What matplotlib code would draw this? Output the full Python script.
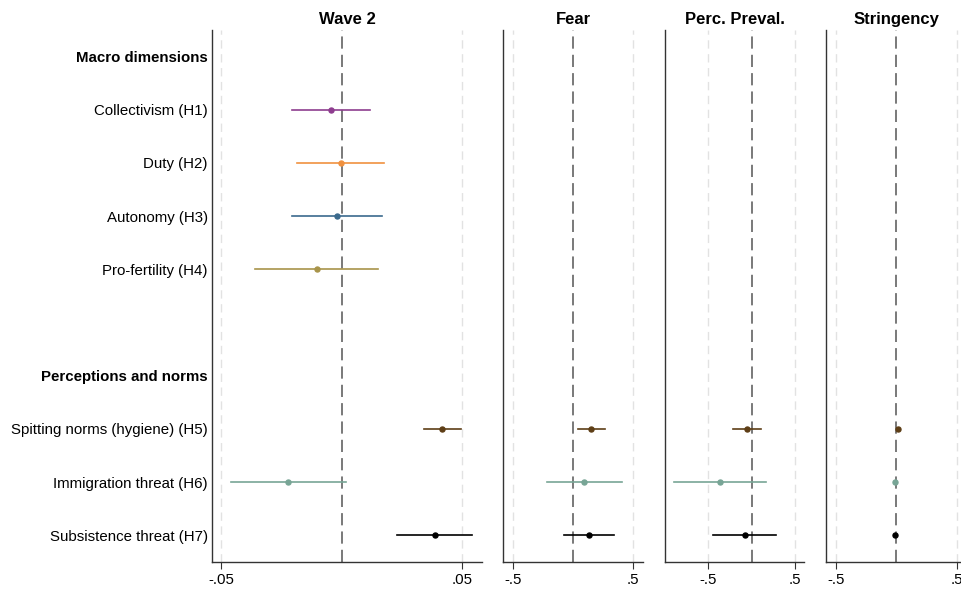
import numpy as np
import matplotlib.pyplot as plt

plt.rcParams['font.family'] = ['Liberation Sans', 'DejaVu Sans']

# row labels, top to bottom
rows = ["Macro dimensions", "Collectivism (H1)", "Duty (H2)", "Autonomy (H3)",
        "Pro-fertility (H4)", "", "Perceptions and norms",
        "Spitting norms (hygiene) (H5)", "Immigration threat (H6)", "Subsistence threat (H7)"]
bold_rows = ["Macro dimensions", "Perceptions and norms"]

colors = {1: '#8e3d8f', 2: '#f0913f', 3: '#3b6a8d', 4: '#a8944a',
          7: '#5e3e16', 8: '#78a596', 9: '#000000'}

# estimates (row index -> point, low, high)
wave2_rows = [1, 2, 3, 4, 7, 8, 9]
wave2_est = [-0.0044, -0.0004, -0.0022, -0.0104, 0.0417, -0.0221, 0.0387]
wave2_lo = [-0.0205, -0.0184, -0.0207, -0.0358, 0.0342, -0.0460, 0.0230]
wave2_hi = [0.0116, 0.0175, 0.0166, 0.0152, 0.0492, 0.0018, 0.0541]

sub_rows = [7, 8, 9]
fear_est = [0.150, 0.092, 0.131]
fear_lo = [0.039, -0.222, -0.078]
fear_hi = [0.264, 0.406, 0.342]

prev_est = [-0.058, -0.365, -0.081]
prev_lo = [-0.212, -0.893, -0.446]
prev_hi = [0.104, 0.165, 0.284]

str_est = [0.011, -0.011, -0.011]
str_lo = [0.004, -0.016, -0.016]
str_hi = [0.018, -0.006, -0.006]

panels = [
    ("Wave 2", wave2_rows, wave2_est, wave2_lo, wave2_hi, (-0.0538, 0.0581), [-0.05, 0.05], ["-.05", ".05"]),
    ("Fear", sub_rows, fear_est, fear_lo, fear_hi, (-0.583, 0.583), [-0.5, 0.5], ["-.5", ".5"]),
    ("Perc. Preval.", sub_rows, prev_est, prev_lo, prev_hi, (-1.0, 0.607), [-0.5, 0.5], ["-.5", ".5"]),
    ("Stringency", sub_rows, str_est, str_lo, str_hi, (-0.583, 0.583), [-0.5, 0.5], ["-.5", ".5"]),
]

W, H = 962, 589
fig = plt.figure(figsize=(W / 100, H / 100), dpi=100)
boxes = [(212, 270), (503.3, 140), (665, 139.3), (825.7, 141)]
top, bot = 30, 562

for i, (title, rws, est, lo, hi, xlim, ticks, tlabels) in enumerate(panels):
    left, width = boxes[i]
    ax = fig.add_axes([left / W, (H - bot) / H, width / W, (bot - top) / H])
    for t in ticks:
        ax.axvline(t, color='#e2e2e2', lw=1, ls=(0, (6, 4)), zorder=0)
    ax.axvline(0, color='#555555', lw=1.1, ls=(0, (8, 4)), zorder=1)
    for r, e, l, h in zip(rws, est, lo, hi):
        c = colors[r]
        ax.plot([l, h], [r, r], color=c, lw=1.2, zorder=2)
        ax.plot(e, r, 'o', color=c, ms=3.6, zorder=3)
    ax.set_xlim(xlim)
    ax.set_ylim(9.5, -0.5)
    ax.set_xticks(ticks)
    ax.set_xticklabels(tlabels, fontsize=10.8)
    ax.tick_params(axis='x', length=5, color='#333333', pad=3)
    for s in ['top', 'right']:
        ax.spines[s].set_visible(False)
    for s in ['left', 'bottom']:
        ax.spines[s].set_color('#333333')
        ax.spines[s].set_linewidth(1.0)
    ax.set_title(title, fontsize=12, fontweight='bold', pad=4)
    if i == 0:
        ax.set_yticks(range(len(rows)))
        ax.set_yticklabels(rows, fontsize=10.8)
        ax.tick_params(axis='y', length=0, pad=3)
        for lab in ax.get_yticklabels():
            if lab.get_text() in bold_rows:
                lab.set_fontweight('bold')
    else:
        ax.set_yticks([])

fig.savefig('out.png', dpi=100)
